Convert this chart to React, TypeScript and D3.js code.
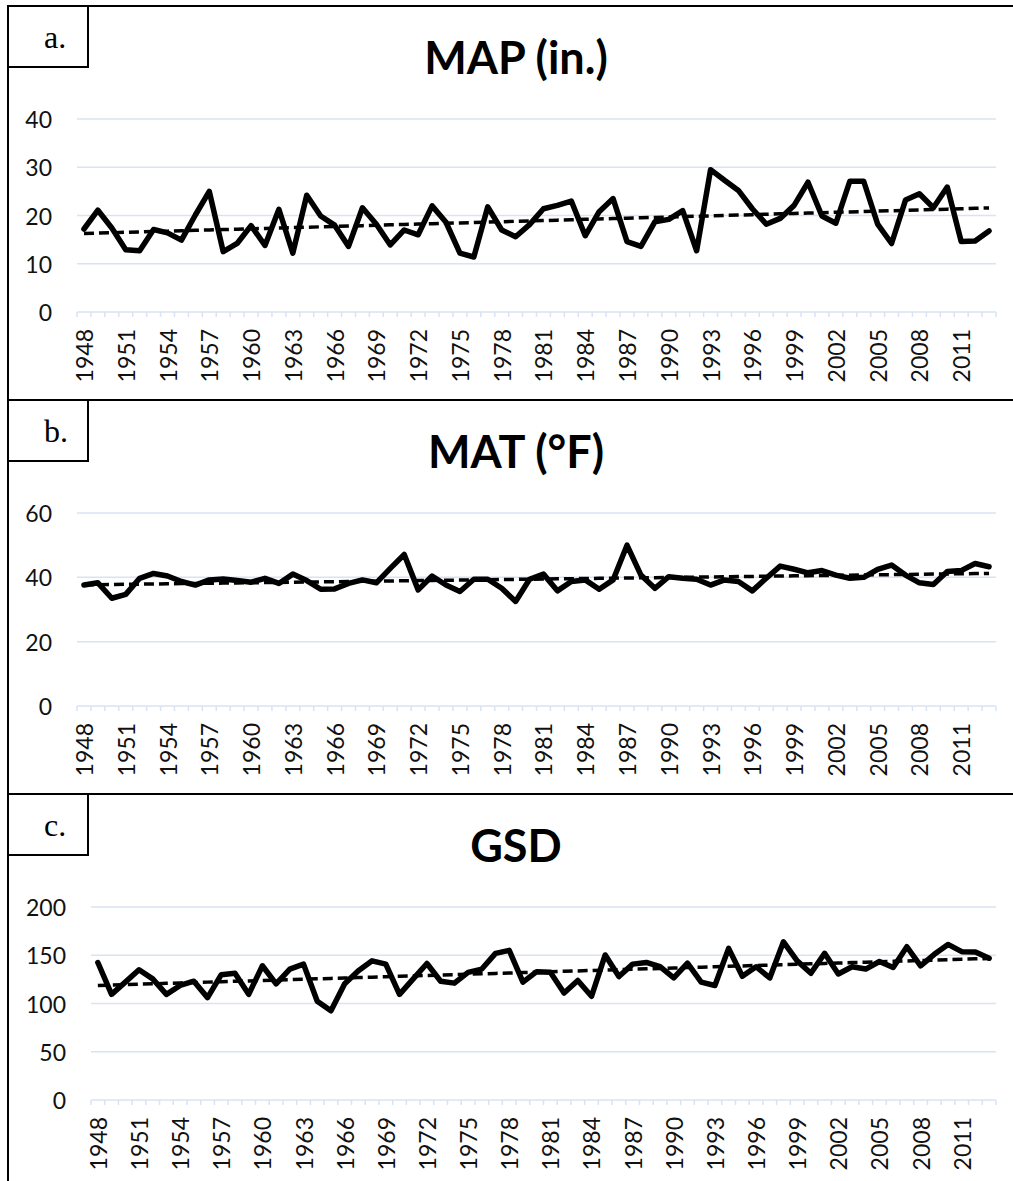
import React from 'react';
import * as d3 from 'd3';

// categories
const years = d3.range(1948, 2014);

// mean annual precipitation (in.)
const mapValues = [
  17.2, 21.1, 17.4, 12.9, 12.7, 17.1, 16.4, 14.9, 20.1, 25.0,
  12.5, 14.2, 17.9, 13.8, 21.3, 12.2, 24.2, 19.9, 18.0, 13.6,
  21.6, 18.2, 13.9, 17.0, 16.0, 22.0, 18.6, 12.2, 11.4, 21.8,
  17.0, 15.6, 18.1, 21.4, 22.1, 23.0, 15.8, 20.8, 23.5, 14.6,
  13.6, 18.7, 19.2, 21.0, 12.7, 29.5, 27.3, 25.2, 21.4, 18.2,
  19.4, 22.1, 26.9, 19.9, 18.4, 27.1, 27.1, 18.2, 14.2, 23.2,
  24.5, 21.6, 25.9, 14.6, 14.7, 16.8
];

// mean annual temperature (°F)
const matValues = [
  37.6, 38.3, 33.5, 34.7, 39.7, 41.2, 40.4, 38.7, 37.6, 39.2,
  39.5, 39.0, 38.5, 39.7, 38.1, 41.0, 39.0, 36.3, 36.4, 38.1,
  39.2, 38.3, 42.8, 47.1, 36.1, 40.4, 37.6, 35.6, 39.4, 39.4,
  36.6, 32.5, 39.4, 41.0, 35.8, 38.7, 39.2, 36.3, 39.2, 50.0,
  40.7, 36.6, 40.2, 39.7, 39.4, 37.6, 39.2, 38.7, 35.8, 39.7,
  43.5, 42.5, 41.4, 42.1, 40.7, 39.7, 40.0, 42.5, 43.8, 40.7,
  38.3, 37.8, 41.8, 42.1, 44.3, 43.3
];

// growing season days
const gsdValues = [
  142.5, 109.5, 122.1, 135.0, 125.5, 109.5, 118.7, 123.1, 106.1, 129.9,
  131.3, 109.5, 139.1, 120.4, 135.7, 140.8, 102.4, 92.5, 120.4, 134.0,
  144.2, 140.8, 109.5, 125.5, 141.5, 123.1, 121.1, 132.3, 135.7, 152.0,
  155.1, 122.1, 133.0, 132.3, 110.9, 123.8, 107.5, 150.3, 127.9, 140.8,
  142.5, 138.1, 126.5, 141.8, 122.1, 118.7, 157.1, 128.2, 138.1, 126.5,
  163.9, 144.2, 131.3, 152.0, 130.6, 138.1, 135.7, 143.5, 137.4, 158.8,
  139.1, 151.0, 161.2, 153.7, 153.4, 146.9
];

const mapTicks = [0, 10, 20, 30, 40];
const matTicks = [0, 20, 40, 60];
const gsdTicks = [0, 50, 100, 150, 200];

const panelLetters = ['a.', 'b.', 'c.'];
const panelTitles = ['MAP (in.)', 'MAT (°F)', 'GSD'];

const W = 1013;
const H = 1181;
const PANEL_H = 394;
const GRID = '#d9e3f3';
const FONT = 'Lato, "Open Sans", sans-serif';

// least squares trend, same as the spreadsheet's linear trendline
function trend(values: number[]) {
  const xs = values.map((_, i) => i);
  const mx = d3.mean(xs) as number;
  const my = d3.mean(values) as number;
  let num = 0, den = 0;
  xs.forEach((x, i) => { num += (x - mx) * (values[i] - my); den += (x - mx) ** 2; });
  const slope = num / den;
  return values.map((_, i) => my + slope * (i - mx));
}

interface PanelProps {
  top: number;
  left: number;
  letter: string;
  title: string;
  values: number[];
  ticks: number[];
}

const Panel: React.FC<PanelProps> = ({ top, left, letter, title, values, ticks }) => {
  const right = 996;
  const y0 = top + 306;
  const y1 = top + 113;

  const x = d3.scaleBand<number>().domain(years).range([left, right]).paddingInner(0).paddingOuter(0);
  const bw = x.bandwidth();
  const cx = (yr: number) => (x(yr) as number) + bw / 2;
  const y = d3.scaleLinear().domain([0, d3.max(ticks) as number]).range([y0, y1]);

  const line = d3.line<number>().x((_, i) => cx(years[i])).y(d => y(d));
  const fit = trend(values);

  return (
    <g>
      {/* panel frame */}
      <rect x={8} y={top} width={W + 20} height={PANEL_H} fill="#fff" stroke="#000" strokeWidth={2} />
      <rect x={8} y={top} width={80} height={61} fill="#fff" stroke="#000" strokeWidth={2} />
      <text x={44} y={top + 42} fontFamily='"Liberation Serif", "Times New Roman", serif' fontSize={32}>{letter}</text>

      <text x={516} y={top + 68} textAnchor="middle" fontFamily={FONT} fontWeight="bold" fontSize={45}>{title}</text>

      {/* gridlines */}
      {ticks.filter(t => t > 0).map(t => (
        <line key={t} x1={left} x2={right} y1={y(t)} y2={y(t)} stroke={GRID} strokeWidth={1.5} />
      ))}
      {ticks.map(t => (
        <text key={'l' + t} x={left - 25} y={y(t)} textAnchor="end" dominantBaseline="central"
          fontFamily={FONT} fontSize={23} fill="#111">{t}</text>
      ))}

      {/* category axis */}
      <line x1={left} x2={right} y1={y0} y2={y0} stroke={GRID} strokeWidth={1.5} />
      {d3.range(years.length + 1).map(i => (
        <line key={'t' + i} x1={left + i * bw} x2={left + i * bw} y1={y0} y2={y0 + 5} stroke={GRID} strokeWidth={1.5} />
      ))}
      {years.filter((_, i) => i % 3 === 0).map(yr => (
        <text key={'x' + yr} transform={`translate(${cx(yr)},${y0 + 17}) rotate(-90)`} textAnchor="end"
          dominantBaseline="central" fontFamily={FONT} fontSize={23} fill="#111">{yr}</text>
      ))}

      <path d={line(fit) as string} fill="none" stroke="#000" strokeWidth={3.5} strokeDasharray="10,5" />
      <path d={line(values) as string} fill="none" stroke="#000" strokeWidth={5.5} strokeLinejoin="round" strokeLinecap="round" />
    </g>
  );
};

export default function App() {
  const series = [mapValues, matValues, gsdValues];
  const tickSets = [mapTicks, matTicks, gsdTicks];
  const tops = [6, 400, 794];
  const lefts = [77, 77, 91];
  return (
    <svg width={W} height={H} style={{ position: 'absolute', left: 0, top: 0, background: '#fff' }}>
      <rect width={W} height={H} fill="#fff" />
      {series.map((vals, k) => (
        <Panel key={k} top={tops[k]} left={lefts[k]} letter={panelLetters[k]} title={panelTitles[k]}
          values={vals} ticks={tickSets[k]} />
      ))}
    </svg>
  );
}
